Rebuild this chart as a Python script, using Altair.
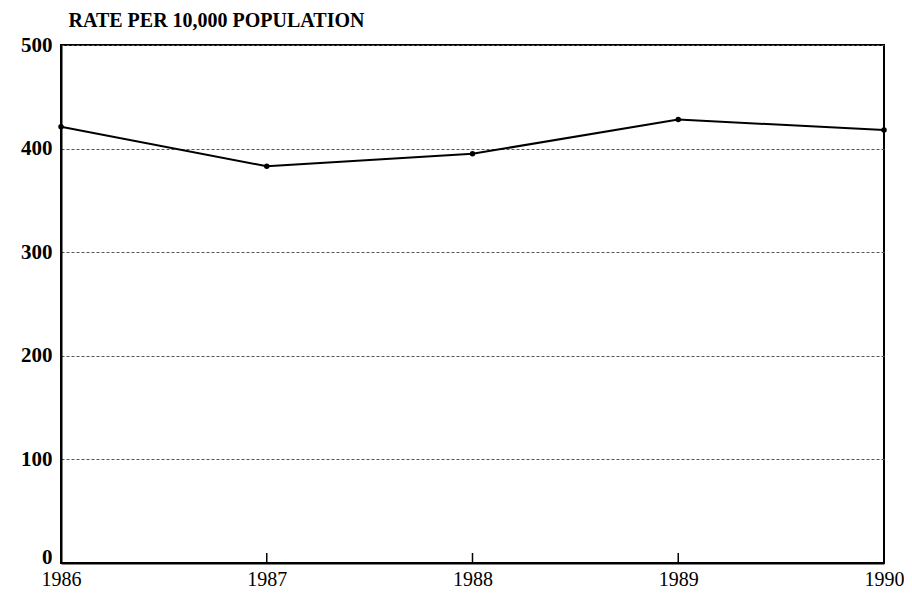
import altair as alt
import pandas as pd

years = [1986, 1987, 1988, 1989, 1990]
rates = [421, 383, 395, 428, 418]
tick_years = [1987, 1988, 1989]

df = pd.DataFrame({"year": years, "rate": rates})
ticks = pd.DataFrame({"year": tick_years})

W, H = 823, 518
FONT = "Liberation Serif"

x = alt.X("year:Q", scale=alt.Scale(domain=[1986, 1990], nice=False),
          axis=alt.Axis(values=years, format="d", title=None, grid=False,
                        ticks=False, labelFlush=False, labelPadding=6,
                        labelFont=FONT, labelFontSize=20, labelColor="black",
                        domainColor="black", domainWidth=2))
y = alt.Y("rate:Q", scale=alt.Scale(domain=[0, 500], nice=False),
          axis=alt.Axis(values=[0, 100, 200, 300, 400, 500], title="RATE PER 10,000 POPULATION",
                        titleAngle=0, titleAlign="left", titleBaseline="alphabetic",
                        titleX=7, titleY=-19, titleFont=FONT, titleFontSize=20,
                        titleFontWeight="bold", titleColor="black",
                        ticks=False, labelPadding=9, labelFont=FONT, labelFontSize=21,
                        labelFontWeight="bold", labelColor="black",
                        labelBaseline={"condition": {"test": "datum.value == 0", "value": "alphabetic"},
                                       "value": "middle"},
                        domainColor="black", domainWidth=2,
                        grid=True, gridDash=[3, 2], gridColor="#555", gridWidth=1))

line = alt.Chart(df).mark_line(
    color="black", strokeWidth=2,
    point=alt.OverlayMarkDef(color="black", size=30, filled=True)
).encode(x=x, y=y)

tick_marks = alt.Chart(ticks).mark_rule(color="black", strokeWidth=1.5).encode(
    x=alt.X("year:Q", scale=alt.Scale(domain=[1986, 1990], nice=False)),
    y=alt.value(H), y2=alt.value(H - 10))

chart = alt.layer(line, tick_marks).properties(
    width=W, height=H,
    background="white",
    autosize=alt.AutoSizeParams(type="none"),
    padding={"left": 53, "top": 37, "right": 20, "bottom": 30},
).configure_view(stroke="black", strokeWidth=2)

chart.save("out.html", embed_options={"renderer": "svg", "actions": False})
